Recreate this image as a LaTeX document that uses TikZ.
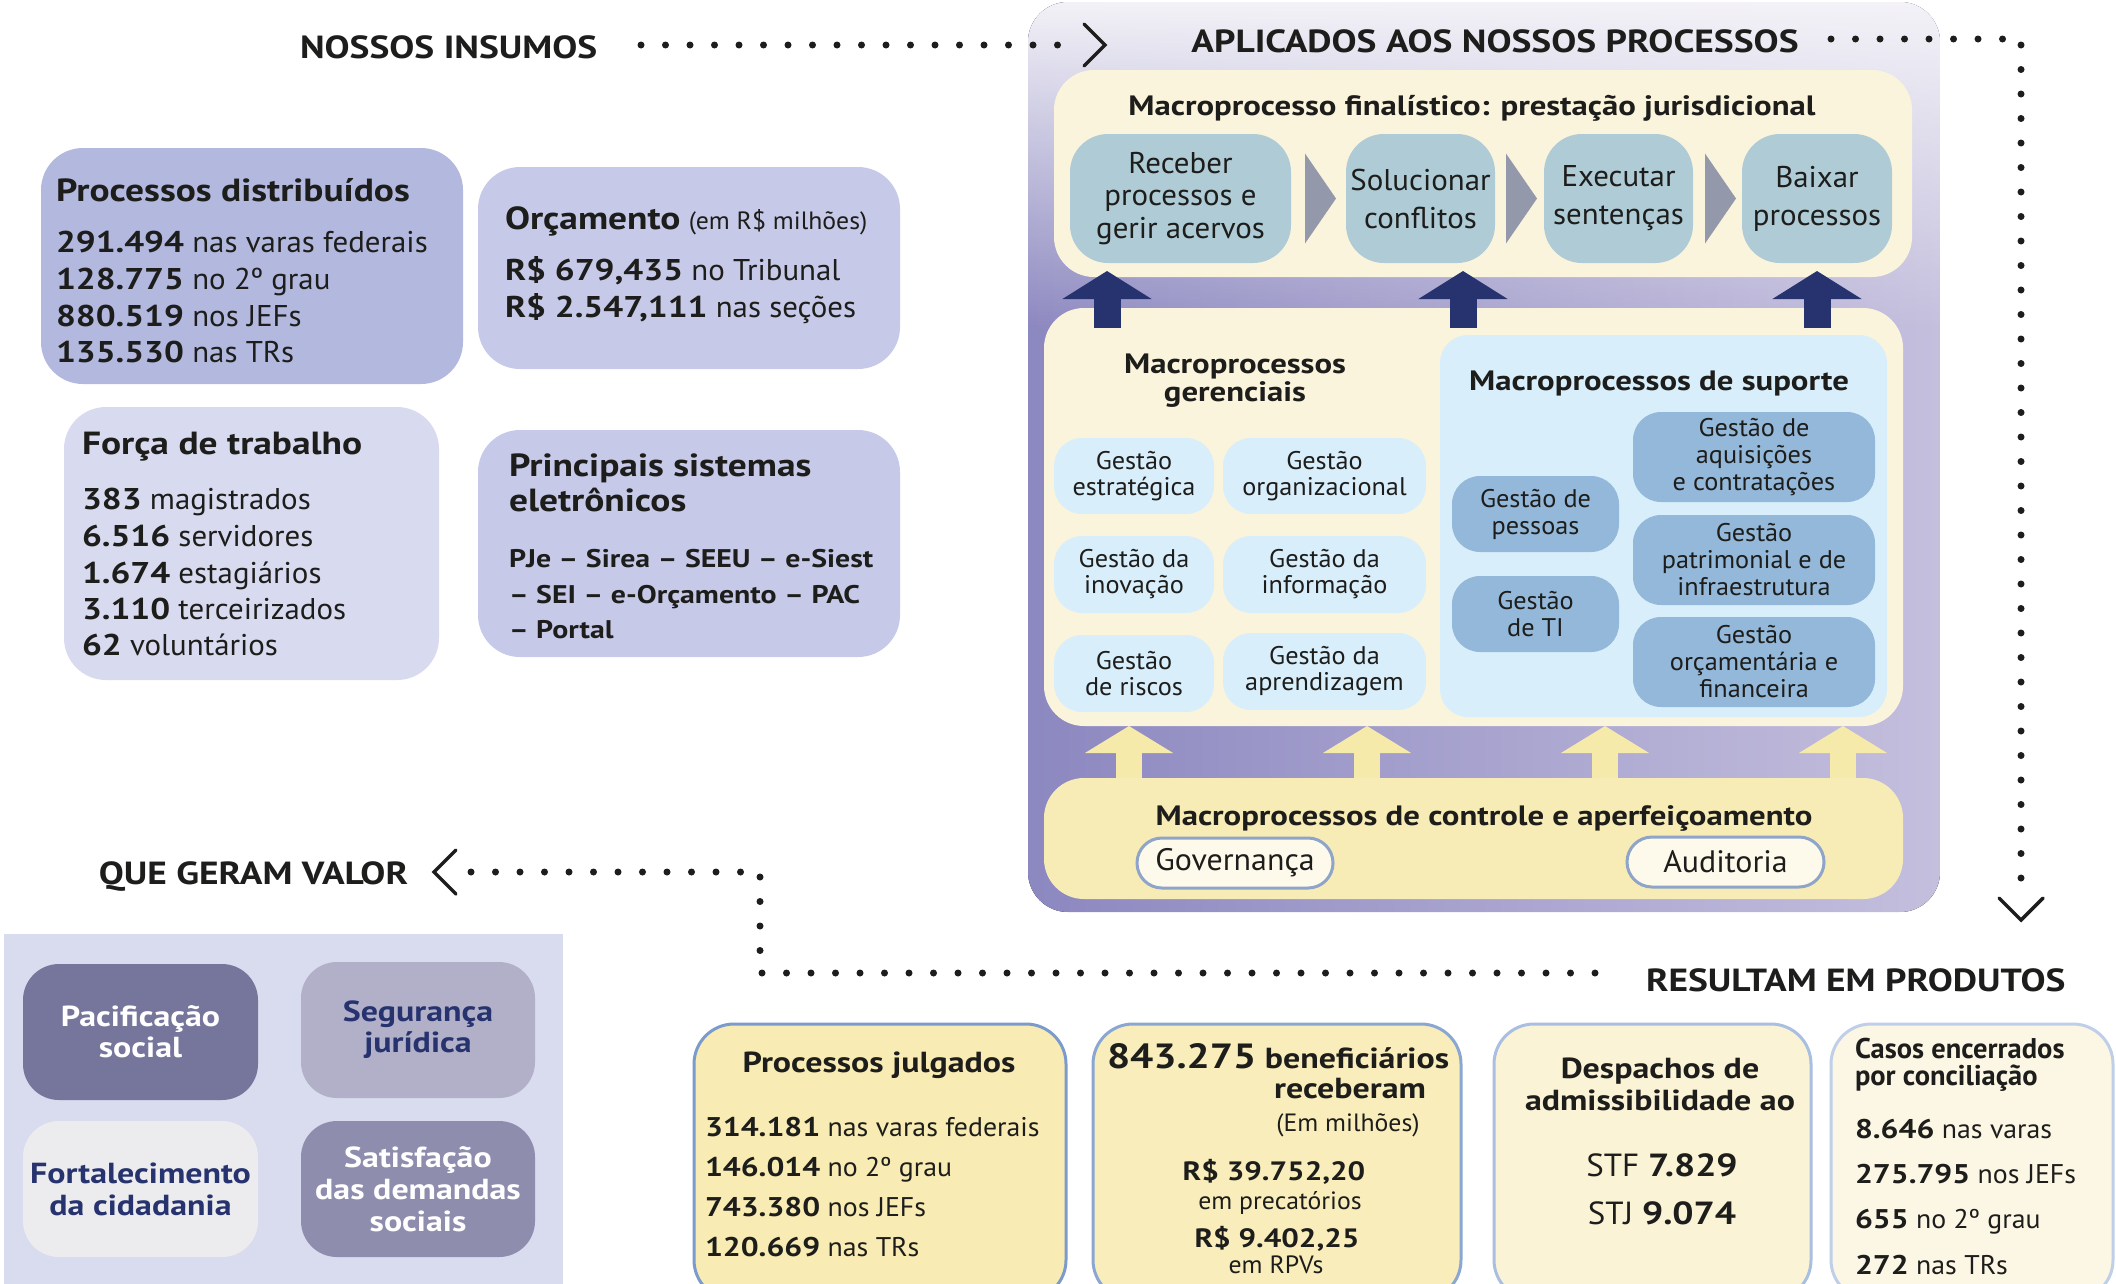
\documentclass[tikz,border=0pt]{standalone}
\usepackage{fontspec}
\setmainfont{PT Sans}[UprightFeatures={FakeStretch=1.03}, BoldFeatures={FakeStretch=1.17}]
\newfontfamily\plainsans{PT Sans}
\usetikzlibrary{calc,fadings,arrows.meta}

\definecolor{ink}{HTML}{1D1D1B}
\definecolor{insA}{HTML}{B3B8DF}
\definecolor{insB}{HTML}{C6C9E7}
\definecolor{insC}{HTML}{D8DAEF}
\definecolor{panelL}{HTML}{8C88C0}
\definecolor{panelR}{HTML}{C4BFDD}
\definecolor{paneltop}{HTML}{F4F3F8}
\definecolor{cream}{HTML}{FBF4DC}
\definecolor{procb}{HTML}{AFCBD6}
\definecolor{chevg}{HTML}{9399AA}
\definecolor{navy}{HTML}{27336E}
\definecolor{lblue}{HTML}{D8EEFB}
\definecolor{mblue}{HTML}{93B8D9}
\definecolor{yarrow}{HTML}{F6EAAA}
\definecolor{ctrl}{HTML}{F7ECB6}
\definecolor{pillf}{HTML}{FDF9EB}
\definecolor{pilld}{HTML}{8EA5C9}
\definecolor{valbg}{HTML}{D9DBEE}
\definecolor{vA}{HTML}{76769C}
\definecolor{vB}{HTML}{B1B0C8}
\definecolor{vC}{HTML}{ECECEE}
\definecolor{vD}{HTML}{8F8DAE}
\definecolor{pAf}{HTML}{F8EBB3}\definecolor{pAd}{HTML}{7B9BCC}
\definecolor{pBf}{HTML}{F8EDBB}\definecolor{pBd}{HTML}{8AA7D3}
\definecolor{pCf}{HTML}{FBF3D6}\definecolor{pCd}{HTML}{A9BFE1}
\definecolor{pDf}{HTML}{FCF6E4}\definecolor{pDd}{HTML}{BFCFE8}

\tikzfading[name=fadedown, top color=transparent!0, bottom color=transparent!100]

\newcommand\fsz[2]{\fontsize{#1}{#2}\selectfont}
% rounded box node: style, name, x1, y1, x2, y2
\newcommand\rbox[6]{%
  \node[#1, minimum width={#5-#3}, minimum height={#6-#4}] (#2) at ({(#3+#5)/2},{(#4+#6)/2}) {};}

\tikzset{
  every node/.style={inner sep=0pt, outer sep=0pt, text=ink},
  inbox/.style={fill=#1, rounded corners=42pt},
  creambox/.style={fill=cream, rounded corners=40pt},
  procbox/.style={fill=procb, rounded corners=38pt},
  smallbox/.style={fill=#1, rounded corners=28pt},
  pill/.style={fill=pillf, draw=pilld, line width=3pt, rounded corners=25pt},
  valbox/.style={fill=#1, rounded corners=36pt},
  prodbox/.style={fill=#1, line width=3pt, rounded corners=40pt},
  heading/.style={font=\bfseries\fsz{32}{38}},
  body/.style={font=\fsz{30}{36}, anchor=base west},
  prodtxt/.style={font=\fsz{27}{32}, anchor=base west},
  dotline/.style={draw=ink, line width=7pt, line cap=round, dash pattern=on 0pt off 24.5pt},
  chevron/.style={draw=ink, line width=3.5pt, line cap=round, line join=miter},
  chevtri/.style={fill=chevg},
  navyarrow/.style={draw=navy, line width=27pt, -{Triangle[width=88pt,length=28pt]}},
  lightarrow/.style={draw=yarrow, line width=26pt, -{Triangle[width=87pt,length=27pt]}},
}

\begin{document}
\begin{tikzpicture}[x=1pt,y=-1pt]
\useasboundingbox (0,0) rectangle (2116,1283);

% ---------- inputs ----------
\node[heading, anchor=base west] (insumos) at (300,58) {NOSSOS INSUMOS};

\rbox{inbox=insA}{pdist}{41}{148}{463}{384}
\node[body, font=\bfseries\fsz{32}{38}] (pdT) at (56,201) {Processos distribuídos};
\node[body] (pd1) at (56,252) {\textbf{291.494} nas varas federais};
\node[body] (pd2) at (56,289) {\textbf{128.775} no 2º grau};
\node[body] (pd3) at (56,326) {\textbf{880.519} nos JEFs};
\node[body] (pd4) at (56,362) {\textbf{135.530} nas TRs};

\rbox{inbox=insB}{orc}{478}{167}{900}{369}
\node[body] (orcT) at (505,229) {{\bfseries\fsz{32}{38}Orçamento} {\fsz{25}{28}(em R\$ milhões)}};
\node[body] (orc1) at (505,280) {\textbf{R\$ 679,435} no Tribunal};
\node[body] (orc2) at (505,317) {\textbf{R\$ 2.547,111} nas seções};

\rbox{inbox=insC}{forca}{64}{407}{439}{680}
\node[body, font=\bfseries\fsz{32}{38}] (fT) at (82,454) {Força de trabalho};
\node[body] (f1) at (82,509) {\textbf{383} magistrados};
\node[body] (f2) at (82,546) {\textbf{6.516} servidores};
\node[body] (f3) at (82,583) {\textbf{1.674} estagiários};
\node[body] (f4) at (82,619) {\textbf{3.110} terceirizados};
\node[body] (f5) at (82,655) {\textbf{62} voluntários};

\rbox{inbox=insB}{sist}{478}{430}{900}{657}
\node[body, font=\bfseries\fsz{32}{38}] (sT1) at (509,476) {Principais sistemas};
\node[body, font=\bfseries\fsz{32}{38}] (sT2) at (509,511) {eletrônicos};
\node[body, font=\bfseries\fsz{25.5}{32}] (s1) at (509,567) {PJe – Sirea – SEEU – e-Siest};
\node[body, font=\bfseries\fsz{25.5}{32}] (s2) at (509,603) {– SEI – e-Orçamento – PAC};
\node[body, font=\bfseries\fsz{25.5}{32}] (s3) at (509,638) {– Portal};

% ---------- process panel ----------
\begin{scope}
  \clip[rounded corners=40pt] (1028,2) rectangle (1940,912);
  \fill[left color=panelL, right color=panelR] (1028,0) rectangle (1940,912);
  \fill[paneltop, path fading=fadedown] (1028,0) rectangle (1940,330);
\end{scope}
\node[heading, anchor=base] (aplic) at (1495,52) {APLICADOS AOS NOSSOS PROCESSOS};

\rbox{creambox}{fin}{1054}{70}{1912}{277}
\node[anchor=base, font=\bfseries\fsz{28}{34}] (finT) at (1472,115) {Macroprocesso finalístico: prestação jurisdicional};
\rbox{procbox}{recv}{1070}{134}{1291}{263}
\rbox{procbox}{solv}{1346}{134}{1495}{263}
\rbox{procbox}{exec}{1544}{134}{1693}{263}
\rbox{procbox}{baix}{1742}{134}{1892}{263}
\node[align=center, font=\fsz{30}{32.5}] (recvT) at (recv) {Receber\\processos e\\gerir acervos};
\node[align=center, font=\fsz{30}{38}] (solvT) at (solv) {Solucionar\\conflitos};
\node[align=center, font=\fsz{30}{38}] (execT) at (exec) {Executar\\sentenças};
\node[align=center, font=\fsz{30}{38}] (baixT) at (baix) {Baixar\\processos};
\fill[chevtri] ($(recv.east)+(14,-45)$) -- ++(31,45) -- ++(-31,45) -- cycle;
\fill[chevtri] ($(solv.east)+(11,-45)$) -- ++(31,45) -- ++(-31,45) -- cycle;
\fill[chevtri] ($(exec.east)+(12,-45)$) -- ++(31,45) -- ++(-31,45) -- cycle;

\rbox{creambox}{mgmt}{1044}{308}{1903}{726}
\node[align=center, font=\bfseries\fsz{28}{28}] (gerT) at (1235,381) {Macroprocessos\\gerenciais};
\rbox{smallbox=lblue}{sup}{1440}{335}{1887}{717}
\node[anchor=base, font=\bfseries\fsz{28}{34}] (supT) at (1659,390) {Macroprocessos de suporte};

\rbox{smallbox=lblue}{g1}{1054}{438}{1214}{514}
\rbox{smallbox=lblue}{g2}{1223}{438}{1426}{514}
\rbox{smallbox=lblue}{g3}{1054}{536}{1214}{613}
\rbox{smallbox=lblue}{g4}{1223}{536}{1426}{613}
\rbox{smallbox=lblue}{g5}{1054}{635}{1214}{712}
\rbox{smallbox=lblue}{g6}{1223}{633}{1426}{710}
\node[align=center, font=\fsz{25.5}{26}] (g1T) at (g1) {Gestão\\estratégica};
\node[align=center, font=\fsz{25.5}{26}] (g2T) at (g2) {Gestão\\organizacional};
\node[align=center, font=\fsz{25.5}{26}] (g3T) at (g3) {Gestão da\\inovação};
\node[align=center, font=\fsz{25.5}{26}] (g4T) at (g4) {Gestão da\\informação};
\node[align=center, font=\fsz{25.5}{26}] (g5T) at (g5) {Gestão\\de riscos};
\node[align=center, font=\fsz{25.5}{26}] (g6T) at (g6) {Gestão da\\aprendizagem};

\rbox{smallbox=mblue}{s1b}{1452}{476}{1619}{552}
\rbox{smallbox=mblue}{s2b}{1452}{576}{1619}{652}
\rbox{smallbox=mblue}{s3b}{1633}{412}{1875}{502}
\rbox{smallbox=mblue}{s4b}{1633}{515}{1875}{605}
\rbox{smallbox=mblue}{s5b}{1633}{617}{1875}{707}
\node[align=center, font=\fsz{25.5}{27}] (s1T) at (s1b) {Gestão de\\pessoas};
\node[align=center, font=\fsz{25.5}{27}] (s2T) at (s2b) {Gestão\\de TI};
\node[align=center, font=\fsz{25.5}{27}] (s3T) at (s3b) {Gestão de\\aquisições\\e contratações};
\node[align=center, font=\fsz{25.5}{27}] (s4T) at (s4b) {Gestão\\patrimonial e de\\infraestrutura};
\node[align=center, font=\fsz{25.5}{27}] (s5T) at (s5b) {Gestão\\orçamentária e\\financeira};

\rbox{creambox, fill=ctrl}{ctl}{1044}{778}{1903}{899}
\node[anchor=base, font=\bfseries\fsz{28}{34}] (ctlT) at (1484,825) {Macroprocessos de controle e aperfeiçoamento};
\rbox{pill}{gov}{1137}{838}{1333}{888}
\rbox{pill}{aud}{1627}{837}{1824}{887}
\node[font=\fsz{31}{34}] (govT) at (gov) {Governança};
\node[font=\fsz{31}{34}] (audT) at (aud) {Auditoria};

% arrows between process layers
\coordinate (na1) at (1107,0);
\coordinate (na2) at (1463,0);
\coordinate (na3) at (1817,0);
\draw[navyarrow] ([yshift=-20pt]mgmt.north -| na1) -- ([yshift=6pt]fin.south -| na1);
\draw[navyarrow] ([yshift=-20pt]mgmt.north -| na2) -- ([yshift=6pt]fin.south -| na2);
\draw[navyarrow] ([yshift=-20pt]mgmt.north -| na3) -- ([yshift=6pt]fin.south -| na3);
\coordinate (la1) at (1129,0);
\coordinate (la2) at (1367,0);
\coordinate (la3) at (1605,0);
\coordinate (la4) at (1843,0);
\draw[lightarrow] (ctl.north -| la1) -- (mgmt.south -| la1);
\draw[lightarrow] (ctl.north -| la2) -- (mgmt.south -| la2);
\draw[lightarrow] (ctl.north -| la3) -- (mgmt.south -| la3);
\draw[lightarrow] (ctl.north -| la4) -- (mgmt.south -| la4);

% ---------- dotted flow ----------
\coordinate (d1a) at (641,45);
\coordinate (d1b) at (1079,45);
\draw[dotline] (d1a) -- (d1b);
\draw[chevron] (1084,24) -- (1105,45) -- (1084,66);

\coordinate (d2a) at (1831,39);
\coordinate (d2b) at (2021,39);
\coordinate (d2c) at (2021,888);
\draw[dotline] (d2a) -- (d2b) -- (d2c);
\draw[chevron] (1999,898) -- (2021,920) -- (2043,898);

\coordinate (d3a) at (1595,973);
\coordinate (d3b) at (760,973);
\coordinate (d3c) at (760,872);
\coordinate (d3d) at (462,872);
\draw[dotline] (d3a) -- (d3b) -- (d3c) -- (d3d);
\draw[chevron] (456,850) -- (434,872) -- (456,894);

\node[heading, anchor=base east] (valor) at (408,884) {QUE GERAM VALOR};
\node[heading, anchor=base west] (result) at (1646,991) {RESULTAM EM PRODUTOS};

% ---------- value ----------
\fill[valbg] (4,934) rectangle (563,1290);
\rbox{valbox=vA}{v1}{23}{964}{258}{1100}
\rbox{valbox=vB}{v2}{301}{962}{535}{1098}
\rbox{valbox=vC}{v3}{23}{1121}{258}{1257}
\rbox{valbox=vD}{v4}{301}{1121}{535}{1257}
\node[align=center, text=white, font=\bfseries\fsz{29}{31}] (v1T) at (v1) {Pacificação\\social};
\node[align=center, text=navy, font=\bfseries\fsz{29}{31}] (v2T) at (v2) {Segurança\\jurídica};
\node[align=center, text=navy, font=\bfseries\fsz{29}{32}] (v3T) at (v3) {Fortalecimento\\da cidadania};
\node[align=center, text=white, font=\bfseries\fsz{29}{32}] (v4T) at (v4) {Satisfação\\das demandas\\sociais};

% ---------- products ----------
\rbox{prodbox=pAf, draw=pAd}{pr1}{694}{1024}{1066}{1300}
\rbox{prodbox=pBf, draw=pBd}{pr2}{1093}{1024}{1461}{1300}
\rbox{prodbox=pCf, draw=pCd}{pr3}{1494}{1024}{1811}{1300}
\rbox{prodbox=pDf, draw=pDd}{pr4}{1831}{1024}{2113}{1300}

\node[anchor=base, font=\bfseries\fsz{29}{34}] (pr1T) at (879,1072) {Processos julgados};
\node[prodtxt] (pr1a) at (705,1136) {\textbf{314.181} nas varas federais};
\node[prodtxt] (pr1b) at (705,1176) {\textbf{146.014} no 2º grau};
\node[prodtxt] (pr1c) at (705,1216) {\textbf{743.380} nos JEFs};
\node[prodtxt] (pr1d) at (705,1256) {\textbf{120.669} nas TRs};

\node[anchor=base west, font=\bfseries\fsz{29}{34}] (pr2T) at (1107,1068) {{\fsz{35}{40}843.275} beneficiários};
\node[anchor=base, font=\bfseries\fsz{29}{34}] (pr2T2) at (1350,1098) {receberam};
\node[anchor=base, font=\fsz{25}{28}] (pr2u) at (1348,1131) {(Em milhões)};
\node[anchor=base, font=\bfseries\fsz{26.5}{32}] (pr2a) at (1274,1180) {R\$ 39.752,20};
\node[anchor=base, font=\fsz{25}{28}] (pr2b) at (1280,1209) {em precatórios};
\node[anchor=base, font=\bfseries\fsz{26.5}{32}] (pr2c) at (1277,1247) {R\$ 9.402,25};
\node[anchor=base, font=\fsz{25}{28}] (pr2d) at (1276,1273) {em RPVs};

\node[anchor=base, font=\bfseries\fsz{29}{34}] (pr3T) at (1660,1078) {Despachos de};
\node[anchor=base, font=\bfseries\fsz{29}{34}] (pr3T2) at (1660,1110) {admissibilidade ao};
\node[anchor=base, font=\fsz{32}{38}] (pr3a) at (1662,1176) {STF \textbf{7.829}};
\node[anchor=base, font=\fsz{32}{38}] (pr3b) at (1662,1224) {STJ \textbf{9.074}};

\node[anchor=base west, font=\plainsans\bfseries\fsz{28.5}{34}] (pr4T) at (1855,1058) {Casos encerrados};
\node[anchor=base west, font=\plainsans\bfseries\fsz{28.5}{34}] (pr4T2) at (1855,1085) {por conciliação};
\node[prodtxt] (pr4a) at (1855,1138) {\textbf{8.646} nas varas};
\node[prodtxt] (pr4b) at (1855,1183) {\textbf{275.795} nos JEFs};
\node[prodtxt] (pr4c) at (1855,1228) {\textbf{655} no 2º grau};
\node[prodtxt] (pr4d) at (1855,1274) {\textbf{272} nas TRs};
\end{tikzpicture}
\end{document}
